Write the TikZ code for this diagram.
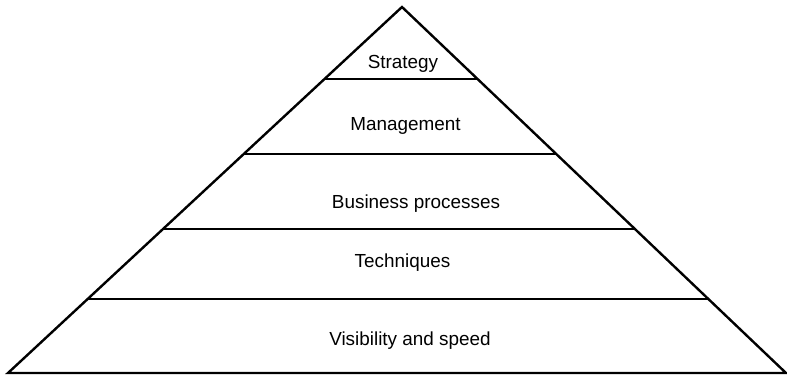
\documentclass[tikz,border=0pt]{standalone}
\usepackage{fontspec}
\setmainfont{Liberation Sans}
\usetikzlibrary{calc}
\tikzset{
  level/.style={line width=1.2pt},
  lbl/.style={anchor=base, inner sep=0pt, font=\fontsize{9.45}{11}\selectfont}
}
\begin{document}
\begin{tikzpicture}[x=0.5pt, y=-0.5pt]
        \useasboundingbox (0,0) rectangle (787,375);
        \coordinate (apex) at (402,7);
        \coordinate (bl) at (8,373);
        \coordinate (br) at (786,373);
        \draw[level, line join=miter] (bl) -- (apex) -- (br) -- cycle;
        % dividing lines between the levels
        \foreach \t [count=\i] in {0.197, 0.402, 0.607, 0.798} {
          \coordinate (left\i) at ($(apex)!\t!(bl)$);
          \coordinate (right\i) at ($(apex)!\t!(br)$);
          \draw[level] (left\i) -- (right\i);
        }
        \node[lbl] (strategy) at (403,68) {Strategy};
        \node[lbl] (management) at (405.5,130) {Management};
        \node[lbl] (processes) at (416,208) {Business processes};
        \node[lbl] (techniques) at (402.5,267) {Techniques};
        \node[lbl] (visibility) at (410,345.5) {Visibility and speed};
      \end{tikzpicture}
\end{document}
